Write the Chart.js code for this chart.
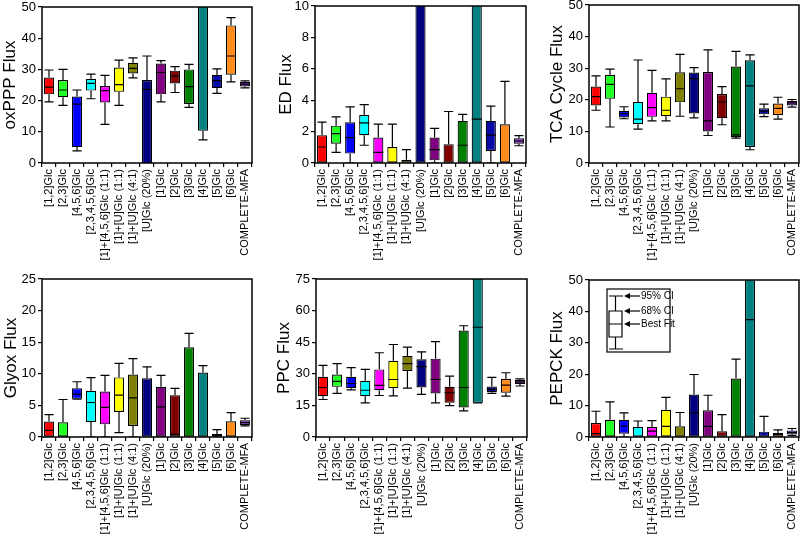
<!DOCTYPE html>
<html>
<head>
<meta charset="utf-8">
<script src="https://cdn.jsdelivr.net/npm/chart.js@4.4.0/dist/chart.umd.min.js"></script>
<style>
html,body{margin:0;padding:0;background:#fff;}
#wrap{position:relative;width:800px;height:544px;overflow:hidden;}
canvas{position:absolute;}
</style>
</head>
<body>
<div id="wrap"></div>
<script>
const categories = ['[1,2]Glc','[2,3]Glc','[4,5,6]Glc','[2,3,4,5,6]Glc','[1]+[4,5,6]Glc (1:1)','[1]+[U]Glc (1:1)','[1]+[U]Glc (4:1)','[U]Glc (20%)','[1]Glc','[2]Glc','[3]Glc','[4]Glc','[5]Glc','[6]Glc','COMPLETE-MFA'];
const colors = ['#ff0000','#22ff22','#0000ff','#00ffff','#ff00ff','#ffff00','#808000','#000080','#800080','#800000','#008000','#008080','#0a0aa8','#ff8c1a','#8a2be2'];

// each entry: [95% low, 68% low, best fit, 68% high, 95% high]
const oxPPP = [[19.6,22.0,24.3,27.4,29.8],[18.5,21.1,23.4,26.6,30.0],[3.9,5.1,18.9,21.3,23.4],[20.6,23.2,25.5,27.0,28.5],[12.4,19.4,23.2,24.7,28.1],[18.5,22.8,25.1,30.6,33.0],[27.3,28.7,30.3,32.1,33.7],[-10,-5,23.6,26.6,34.3],[19.6,22.0,29.0,31.9,32.8],[22.6,25.5,27.9,29.6,30.9],[17.8,18.9,24.5,30.0,31.6],[7.4,10.3,null,70,80],[22.3,24.0,26.4,28.3,30.2],[26.0,28.3,34.3,44.1,46.6],[24.1,24.5,25.3,26.0,26.3]];
const edFlux = [[0,0,1.02,1.77,2.6],[0.68,1.23,1.87,2.38,2.94],[0,0.6,1.62,2.6,3.57],[1.13,1.77,2.55,3.06,3.72],[0,0,0.68,1.62,2.47],[0,0,null,1.02,2.47],[0,0,null,0.21,0.85],[0,0,null,15,16],[0,0.17,0.85,1.62,2.21],[0,0,null,1.19,3.28],[0,0,1.13,2.68,3.1],[0,0,2.79,15,16],[0,0.77,1.77,2.68,3.62],[0,0,null,2.47,5.2],[1.1,1.23,1.4,1.57,1.74]];
const tcaFlux = [[16.7,18.2,21.0,24.2,27.6],[11.4,20.3,24.9,27.9,29.7],[14.0,14.4,15.6,16.5,17.8],[10.7,12.3,13.9,19.3,32.6],[13.3,14.6,17.5,22.2,29.3],[13.3,14.8,16.7,21.0,26.6],[14.8,19.2,23.5,28.7,34.4],[14.3,15.7,26.7,28.6,30.2],[8.7,10.0,13.3,28.8,35.8],[12.1,14.2,19.3,21.8,24.2],[7.9,8.2,8.9,30.5,35.3],[4.2,5.1,24.4,32.5,34.2],[14.7,15.4,16.4,17.3,18.6],[13.9,15.1,17.3,18.8,20.8],[17.7,18.2,19.0,19.6,20.1]];
const glyoxFlux = [[0,0,1.06,2.44,3.55],[0,0,null,2.33,5.93],[6.0,6.04,6.78,7.73,8.74],[0,2.38,5.46,7.3,9.4],[0,2.0,4.7,7.2,9.75],[0.69,3.97,6.62,9.43,11.65],[0,1.75,6.2,9.9,12.4],[0,0,null,9.3,11.1],[0,0,4.77,7.94,9.75],[0,0,0.42,6.62,7.68],[0,0,null,14.2,16.4],[0,0,null,10.2,11.3],[0,0,null,0.48,1.17],[0,0,null,2.49,3.87],[1.75,1.9,2.28,2.65,2.97]];
const ppcFlux = [[17.8,19.4,23.5,28.6,34.0],[20.7,23.8,26.4,29.7,34.8],[22.4,23.2,25.4,28.6,32.9],[16.2,19.4,22.2,26.7,32.1],[19.7,22.2,24.5,32.1,40.0],[19.5,23.2,27.3,36.2,43.9],[23.2,31.3,34.8,38.5,42.7],[20.2,23.5,33.4,36.9,40.4],[16.2,20.7,27.3,37.2,45.3],[14.9,16.2,21.0,23.8,28.9],[12.4,14.0,23.5,50.5,52.8],[16.2,16.2,52.1,90,95],[20.7,21.3,22.6,24.0,28.3],[19.4,21.0,24.6,27.6,30.5],[24.2,25.1,26.2,27.0,27.6]];
const pepckFlux = [[0,0,1.06,4.47,8.2],[0,0,null,5.5,11.2],[0,1.06,3.5,5.5,7.7],[0,0,null,3.2,5.1],[0,0,1.9,3.2,5.2],[0,0,3.4,8.7,12.6],[0,0,null,3.4,7.8],[0,0,7.7,13.5,19.9],[0,0,3.4,8.5,13.3],[0,0,null,1.8,7.1],[0,0,null,18.6,24.8],[0,0,37.4,70,80],[0,0,null,1.7,6.6],[0,0,0.8,1.3,2.3],[0.5,0.85,1.5,2.1,2.7]];

const panels = [
  {data: oxPPP, title: 'oxPPP Flux', max: 50, step: 10, cl: 0, ct: 0, pl: 42, pr: 252, pt: 7, pb: 163, tp: 0},
  {data: edFlux, title: 'ED Flux', max: 10, step: 2, cl: 273, ct: 0, pl: 315, pr: 526, pt: 6, pb: 163, tp: 3},
  {data: tcaFlux, title: 'TCA Cycle Flux', max: 50, step: 10, cl: 547, ct: 0, pl: 589, pr: 799, pt: 5, pb: 163, tp: 0},
  {data: glyoxFlux, title: 'Glyox Flux', max: 25, step: 5, cl: 0, ct: 272, pl: 42, pr: 252, pt: 279, pb: 437, tp: 1},
  {data: ppcFlux, title: 'PPC Flux', max: 75, step: 15, cl: 274, ct: 272, pl: 316, pr: 527, pt: 279, pb: 437, tp: 0},
  {data: pepckFlux, title: 'PEPCK Flux', max: 50, step: 10, cl: 547, ct: 272, pl: 589, pr: 799, pt: 280, pb: 437, tp: 0, legend: true}
];

const FONT = "'Liberation Sans', Arial, sans-serif";

const boxPlugin = {
  id: 'boxExtras',
  afterDatasetsDraw(chart, args, opts) {
    const {ctx, chartArea: a, scales: {x, y}} = chart;
    const meta = chart.getDatasetMeta(0);
    const d = opts.values;
    ctx.save();
    ctx.beginPath();
    ctx.rect(a.left, a.top, a.right - a.left, a.bottom - a.top);
    ctx.clip();
    ctx.strokeStyle = '#000';
    ctx.lineWidth = 1.2;
    d.forEach((v, i) => {
      const el = meta.data[i];
      const cx = x.getPixelForValue(i);
      const bw = el.width;
      const cap = bw * 0.9;
      const p = v.map(t => t === null ? null : y.getPixelForValue(t));
      ctx.beginPath();
      ctx.moveTo(cx, p[0]); ctx.lineTo(cx, p[1]);
      ctx.moveTo(cx, p[3]); ctx.lineTo(cx, p[4]);
      ctx.moveTo(cx - cap / 2, p[0]); ctx.lineTo(cx + cap / 2, p[0]);
      ctx.moveTo(cx - cap / 2, p[4]); ctx.lineTo(cx + cap / 2, p[4]);
      if (p[2] !== null) { ctx.moveTo(cx - bw / 2, p[2]); ctx.lineTo(cx + bw / 2, p[2]); }
      ctx.stroke();
    });
    ctx.restore();
    // frame
    ctx.save();
    ctx.strokeStyle = '#000';
    ctx.lineWidth = 1.5;
    ctx.strokeRect(a.left, a.top, a.right - a.left, a.bottom - a.top);
    ctx.restore();
    if (opts.legend) {
      const L = a.left + 18, T = a.top + 9, W = 63, H = 63;
      ctx.save();
      ctx.strokeStyle = '#000';
      ctx.fillStyle = '#fff';
      ctx.lineWidth = 1.2;
      ctx.fillRect(L, T, W, H);
      ctx.strokeRect(L, T, W, H);
      const bx = L + 2, bwid = 13, mx = bx + bwid / 2;
      const yTop = T + 7, yBoxT = T + 22, yMed = T + 35, yBoxB = T + 48, yBot = T + 60;
      ctx.beginPath();
      ctx.moveTo(mx, yTop); ctx.lineTo(mx, yBoxT);
      ctx.moveTo(mx, yBoxB); ctx.lineTo(mx, yBot);
      ctx.moveTo(bx, yTop); ctx.lineTo(bx + bwid + 1, yTop);
      ctx.moveTo(bx, yBot); ctx.lineTo(bx + bwid + 1, yBot);
      ctx.rect(bx, yBoxT, bwid, yBoxB - yBoxT);
      ctx.moveTo(bx, yMed); ctx.lineTo(bx + bwid, yMed);
      ctx.stroke();
      const ax0 = bx + bwid + 2, ax1 = L + 33;
      ctx.font = '10px ' + FONT;
      ctx.fillStyle = '#000';
      ctx.textBaseline = 'middle';
      [[yTop, '95% CI'], [yBoxT, '68% CI'], [yMed, 'Best Fit']].forEach(([yy, t]) => {
        ctx.beginPath();
        ctx.moveTo(ax0 + 5, yy); ctx.lineTo(ax1, yy); ctx.stroke();
        ctx.beginPath();
        ctx.moveTo(ax0, yy); ctx.lineTo(ax0 + 6, yy - 3); ctx.lineTo(ax0 + 6, yy + 3); ctx.closePath(); ctx.fill();
        ctx.fillText(t, ax1 + 1, yy + 0.5);
      });
      ctx.restore();
    }
  }
};

const wrap = document.getElementById('wrap');
panels.forEach(P => {
  const cv = document.createElement('canvas');
  const W = P.pr - P.cl + 1, H = 272;
  cv.width = W; cv.height = H;
  cv.style.left = P.cl + 'px'; cv.style.top = P.ct + 'px';
  cv.style.width = W + 'px'; cv.style.height = H + 'px';
  wrap.appendChild(cv);
  const xH = P.ct + H - P.pb;
  new Chart(cv, {
    type: 'bar',
    data: {
      labels: categories,
      datasets: [{
        data: P.data.map(v => [v[1], v[3]]),
        backgroundColor: colors,
        borderColor: '#000',
        borderWidth: 1.2,
        borderSkipped: false,
        barPercentage: 0.72,
        categoryPercentage: 1.0
      }]
    },
    options: {
      responsive: false,
      animation: false,
      devicePixelRatio: 1,
      layout: {padding: {top: P.pt - P.ct, right: 1, left: 0, bottom: 0}},
      plugins: {
        legend: {display: false},
        tooltip: {enabled: false},
        boxExtras: {values: P.data, legend: !!P.legend}
      },
      scales: {
        x: {
          grid: {display: true, drawOnChartArea: false, drawTicks: true, tickLength: 4, color: '#000', lineWidth: 1.2},
          border: {display: false},
          ticks: {minRotation: 90, maxRotation: 90, autoSkip: false, color: '#000', padding: 2, font: {family: FONT, size: 11}},
          afterFit(s) { s.height = xH; s.paddingLeft = 0; s.paddingRight = 0; }
        },
        y: {
          min: 0, max: P.max,
          grid: {display: true, drawOnChartArea: false, drawTicks: true, tickLength: 4, color: '#000', lineWidth: 1.2},
          border: {display: false},
          ticks: {stepSize: P.step, color: '#000', padding: 2, font: {family: FONT, size: 13}},
          title: {display: true, text: P.title, color: '#000', padding: {top: P.tp, bottom: 0}, font: {family: FONT, size: 17}},
          afterFit(s) { s.width = 42; s.paddingTop = 0; s.paddingBottom = 0; }
        }
      }
    },
    plugins: [boxPlugin]
  });
});
</script>
</body>
</html>
